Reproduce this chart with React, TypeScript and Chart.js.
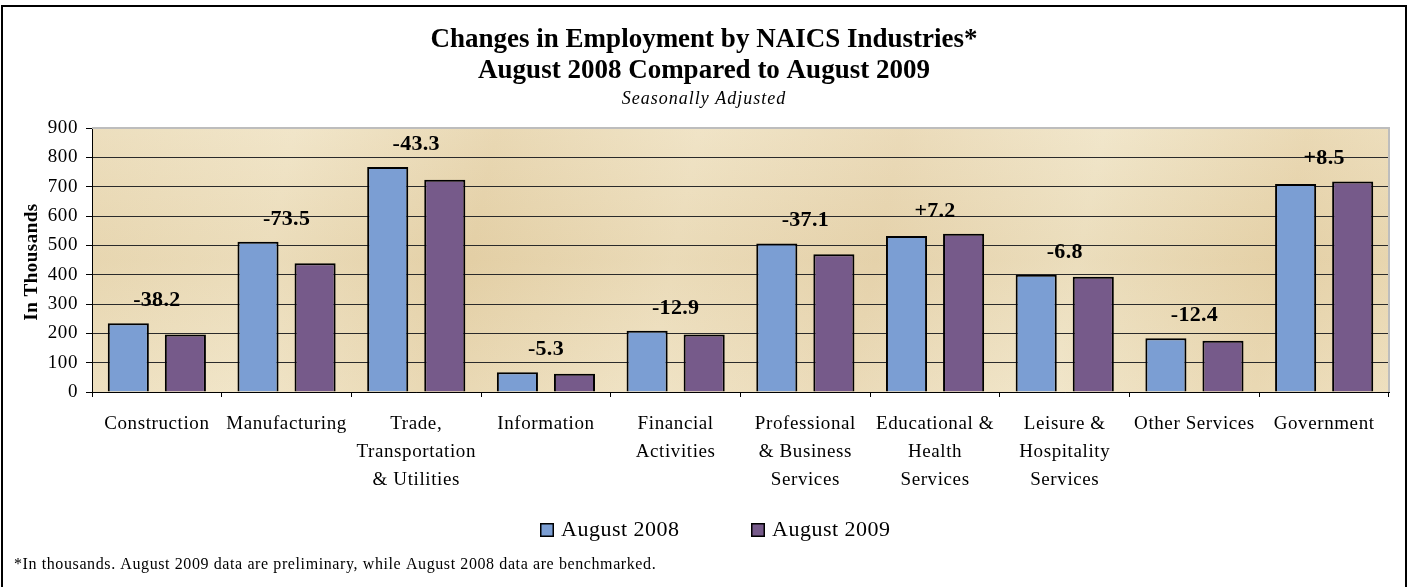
import React, { useEffect, useRef } from 'react';
import { Chart, registerables } from 'chart.js';

Chart.register(...registerables);

// ---- data ----
const categories: string[][] = [
  ['Construction'],
  ['Manufacturing'],
  ['Trade,', 'Transportation', '& Utilities'],
  ['Information'],
  ['Financial', 'Activities'],
  ['Professional', '& Business', 'Services'],
  ['Educational &', 'Health', 'Services'],
  ['Leisure &', 'Hospitality', 'Services'],
  ['Other Services'],
  ['Government'],
];
const aug2008: number[] = [234.5, 512, 767, 67.5, 208.5, 506.5, 532, 399.5, 183, 709];
const aug2009: number[] = [196.3, 438.5, 723.7, 62.2, 195.6, 469.4, 539.2, 392.7, 175, 717.5];
const changeLabels: string[] = ['-38.2', '-73.5', '-43.3', '-5.3', '-12.9', '-37.1', '+7.2', '-6.8', '-12.4', '+8.5'];
const seriesNames: string[] = ['August 2008', 'August 2009'];
const seriesColors: string[] = ['#7b9ed3', '#765a8a'];

const titleLines: string[] = ['Changes in Employment by NAICS Industries*', 'August 2008 Compared to August 2009'];
const subtitle = 'Seasonally Adjusted';
const yAxisTitle = 'In Thousands';
const footnote = '*In thousands. August 2009 data are preliminary, while August 2008 data are benchmarked.';

const SERIF = "'Liberation Serif', 'Times New Roman', serif";

function setSpacing(ctx: any, px: number) {
  if ('letterSpacing' in ctx) ctx.letterSpacing = px + 'px';
}

function drawText(ctx: CanvasRenderingContext2D, str: string, x: number, y: number, font: string, align: CanvasTextAlign, spacing = 1) {
  ctx.save();
  setSpacing(ctx, spacing);
  ctx.font = font;
  ctx.fillStyle = '#000';
  ctx.textAlign = align;
  ctx.textBaseline = 'middle';
  ctx.fillText(str, x, y);
  ctx.restore();
}

const decorPlugin = {
  id: 'decor',
  beforeUpdate(chart: any) {
    setSpacing(chart.ctx, 0.6);
  },
  beforeDraw(chart: any) {
    const ctx = chart.ctx as CanvasRenderingContext2D;
    setSpacing(ctx, 0.6);
    const { left, top, right, bottom } = chart.chartArea;
    ctx.save();
    ctx.fillStyle = '#ffffff';
    ctx.fillRect(0, 0, chart.width, chart.height);
    // parchment-like plot background
    const g = ctx.createLinearGradient(left, top, right, bottom);
    g.addColorStop(0, '#eadab5');
    g.addColorStop(0.15, '#efe2c2');
    g.addColorStop(0.3, '#e6d3aa');
    g.addColorStop(0.45, '#eee0bf');
    g.addColorStop(0.6, '#e8d6b0');
    g.addColorStop(0.75, '#efe3c4');
    g.addColorStop(0.9, '#e7d4ab');
    g.addColorStop(1, '#ecdcb8');
    ctx.fillStyle = g;
    ctx.fillRect(left, top, right - left, bottom - top);
    const g2 = ctx.createLinearGradient(left, top, left, bottom);
    g2.addColorStop(0, 'rgba(255,255,255,0.12)');
    g2.addColorStop(0.5, 'rgba(200,170,120,0.10)');
    g2.addColorStop(1, 'rgba(255,255,255,0.10)');
    ctx.fillStyle = g2;
    ctx.fillRect(left, top, right - left, bottom - top);
    // outer frame
    ctx.strokeStyle = '#000';
    ctx.lineWidth = 2;
    ctx.strokeRect(2, 6, 1404, 620);
    ctx.restore();
  },
  beforeDatasetsDraw(chart: any) {
    const ctx = chart.ctx as CanvasRenderingContext2D;
    const { left, top, right, bottom } = chart.chartArea;
    ctx.save();
    ctx.strokeStyle = '#bdbdbd';
    ctx.lineWidth = 2;
    ctx.beginPath();
    ctx.moveTo(left, top);
    ctx.lineTo(right, top);
    ctx.lineTo(right, bottom);
    ctx.stroke();
    ctx.restore();
  },
  afterDraw(chart: any) {
    const ctx = chart.ctx as CanvasRenderingContext2D;
    const xs = chart.scales.x;
    const ys = chart.scales.y;
    const cx = 704;
    // titles
    drawText(ctx, titleLines[0], cx, 40, `bold 27px ${SERIF}`, 'center', 0);
    drawText(ctx, titleLines[1], cx, 71, `bold 27px ${SERIF}`, 'center', 0);
    drawText(ctx, subtitle, cx, 99, `italic 18px ${SERIF}`, 'center', 1);
    // y axis title
    ctx.save();
    ctx.translate(32, 262);
    ctx.rotate(-Math.PI / 2);
    drawText(ctx, yAxisTitle, 0, 0, `bold 19px ${SERIF}`, 'center', 0.5);
    ctx.restore();
    // change labels above each pair
    for (let i = 0; i < categories.length; i++) {
      const x = xs.getPixelForValue(i);
      const y = ys.getPixelForValue(Math.max(aug2008[i], aug2009[i])) - 23;
      drawText(ctx, changeLabels[i], x, y, `bold 22px ${SERIF}`, 'center', 0.3);
    }
    // legend
    const legendY = 530;
    const items = [540, 751];
    for (let k = 0; k < 2; k++) {
      const bx = items[k];
      ctx.save();
      ctx.fillStyle = chart.data.datasets[k].backgroundColor;
      ctx.fillRect(bx, legendY - 7, 14, 14);
      ctx.strokeStyle = '#000';
      ctx.lineWidth = 1.5;
      ctx.strokeRect(bx + 0.75, legendY - 6.25, 12.5, 12.5);
      ctx.restore();
      drawText(ctx, chart.data.datasets[k].label, bx + 21, legendY, `22px ${SERIF}`, 'left', 0.5);
    }
    // footnote
    drawText(ctx, footnote, 14, 565, `16px ${SERIF}`, 'left', 0.6);
  },
};

export default function App() {
  const ref = useRef<HTMLCanvasElement | null>(null);
  useEffect(() => {
    if (!ref.current) return;
    const chart = new Chart(ref.current, {
      type: 'bar',
      data: {
        labels: categories,
        datasets: [
          {
            label: seriesNames[0],
            data: aug2008,
            backgroundColor: seriesColors[0],
            borderColor: '#000',
            borderWidth: 2,
            categoryPercentage: 0.88,
            barPercentage: 0.72,
          },
          {
            label: seriesNames[1],
            data: aug2009,
            backgroundColor: seriesColors[1],
            borderColor: '#000',
            borderWidth: 2,
            categoryPercentage: 0.88,
            barPercentage: 0.72,
          },
        ],
      },
      options: {
        responsive: false,
        animation: false,
        layout: { padding: { left: 0, top: 128, right: 21, bottom: 95 } },
        plugins: {
          legend: { display: false },
          title: { display: false },
          tooltip: { enabled: false },
        },
        scales: {
          x: {
            offset: true,
            grid: { display: true, drawOnChartArea: false, color: '#000', tickLength: 5, lineWidth: 1 },
            border: { color: '#000', width: 1 },
            ticks: {
              color: '#000',
              font: { family: SERIF, size: 19, lineHeight: 1.47 },
              padding: 13,
              maxRotation: 0,
              autoSkip: false,
            },
            afterFit: (s: any) => { s.height = 100; },
          },
          y: {
            min: 0,
            max: 900,
            grid: {
              color: (c: any) => (c.tick && c.tick.value === 900 ? 'rgba(0,0,0,0)' : '#2a2a2a'),
              tickColor: '#000',
              tickLength: 6,
              lineWidth: 1,
            },
            border: { color: '#000', width: 1 },
            ticks: {
              stepSize: 100,
              color: '#000',
              font: { family: SERIF, size: 19 },
              padding: 8,
            },
            afterFit: (s: any) => { s.width = 92; },
          },
        },
      },
      plugins: [decorPlugin],
    });
    return () => chart.destroy();
  }, []);
  return (
    <div style={{ position: 'fixed', left: 0, top: 0, width: 1410, height: 587, background: '#fff' }}>
      <canvas ref={ref} width={1410} height={587} style={{ width: 1410, height: 587, display: 'block' }} />
    </div>
  );
}
